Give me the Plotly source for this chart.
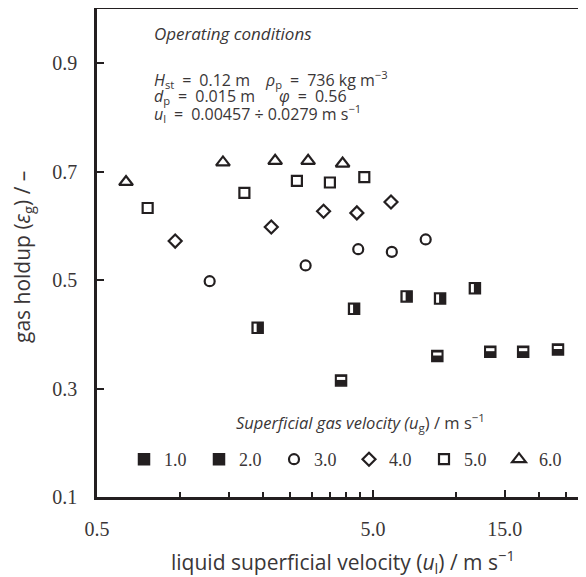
import plotly.graph_objects as go
import math

# ---- data ----
ug_labels = ["1.0", "2.0", "3.0", "4.0", "5.0", "6.0"]
ul_1 = [3.83, 8.55, 13.3, 17.5, 23.4]
eg_1 = [0.315, 0.360, 0.368, 0.368, 0.372]
ul_2 = [1.91, 4.27, 6.62, 8.75, 11.7]
eg_2 = [0.412, 0.447, 0.470, 0.466, 0.485]
ul_3 = [1.28, 2.85, 4.42, 5.85, 7.76]
eg_3 = [0.498, 0.527, 0.557, 0.552, 0.575]
ul_4 = [0.96, 2.14, 3.31, 4.37, 5.81]
eg_4 = [0.572, 0.598, 0.627, 0.624, 0.644]
ul_5 = [0.763, 1.71, 2.65, 3.49, 4.65]
eg_5 = [0.633, 0.661, 0.683, 0.680, 0.690]
ul_6 = [0.637, 1.43, 2.21, 2.91, 3.88]
eg_6 = [0.681, 0.717, 0.720, 0.720, 0.715]

x_major_ticks = [0.5, 5, 15]
x_major_text = ["0.5", "5.0", "15.0"]
x_minor_ticks = [1, 1.5, 2, 2.5, 3, 3.5, 4, 4.5, 10, 20, 25]
y_ticks = [0.1, 0.3, 0.5, 0.7, 0.9]
y_text = ["0.1", "0.3", "0.5", "0.7", "0.9"]

INK = "#231f20"
TXT = "#3a3637"
SANS = "Open Sans"
SERIF = "Liberation Serif"

# page body has an 8px margin; compensate so the plot sits where the reference has it
OFF = 8
W, H = 586 - OFF, 577 - OFF
L, R, T, B = 89, 0, 1, 80
pw = W - L - R
ph = H - T - B

xr = [math.log10(0.5), math.log10(0.5) + pw / 276.0]
yr = [0.1, 1.0]
# hidden overlay axes, offset by a couple of pixels, to place the white bar
# of the half-filled squares off-centre (top half / left half)
dy = 2.0 * (yr[1] - yr[0]) / ph
dx = 2.5 * (xr[1] - xr[0]) / pw
yr2 = [yr[0] - dy, yr[1] - dy]
xr2 = [xr[0] + dx, xr[1] + dx]

fig = go.Figure()

fig.add_trace(go.Scatter(x=ul_1, y=eg_1, mode="markers", name=ug_labels[0],
                         marker=dict(symbol="square", size=11, color=INK,
                                     line=dict(color=INK, width=1.5))))
fig.add_trace(go.Scatter(x=ul_1, y=eg_1, mode="markers", showlegend=False, hoverinfo="skip",
                         xaxis="x", yaxis="y2",
                         marker=dict(symbol="line-ew", size=6, color="white",
                                     line=dict(color="white", width=3))))
fig.add_trace(go.Scatter(x=ul_2, y=eg_2, mode="markers", name=ug_labels[1],
                         marker=dict(symbol="square", size=11, color=INK,
                                     line=dict(color=INK, width=1.5))))
fig.add_trace(go.Scatter(x=ul_2, y=eg_2, mode="markers", showlegend=False, hoverinfo="skip",
                         xaxis="x2", yaxis="y",
                         marker=dict(symbol="line-ns", size=6, color="white",
                                     line=dict(color="white", width=3))))
fig.add_trace(go.Scatter(x=ul_3, y=eg_3, mode="markers", name=ug_labels[2],
                         marker=dict(symbol="circle-open", size=10, color=INK,
                                     line=dict(color=INK, width=2.2))))
fig.add_trace(go.Scatter(x=ul_4, y=eg_4, mode="markers", name=ug_labels[3],
                         marker=dict(symbol="diamond-open", size=10, color=INK,
                                     line=dict(color=INK, width=2.2))))
fig.add_trace(go.Scatter(x=ul_5, y=eg_5, mode="markers", name=ug_labels[4],
                         marker=dict(symbol="square-open", size=10, color=INK,
                                     line=dict(color=INK, width=2.2))))
fig.add_trace(go.Scatter(x=ul_6, y=eg_6, mode="markers", name=ug_labels[5],
                         marker=dict(symbol="triangle-up-open", size=12, color=INK,
                                     line=dict(color=INK, width=2.2))))


def px_x(sx):
    return (sx - OFF - L) / pw


def px_y(sy):
    return (H - B - (sy - OFF)) / ph


fig.update_layout(
    width=W, height=H,
    margin=dict(l=L, r=R, t=T, b=B, autoexpand=False),
    paper_bgcolor="white", plot_bgcolor="white",
    showlegend=True,
    legend=dict(
        orientation="h", x=px_x(124), xanchor="left", y=px_y(441), yanchor="top",
        entrywidth=30, entrywidthmode="pixels",
        font=dict(family=SERIF, size=18, color=TXT),
        bgcolor="rgba(0,0,0,0)", traceorder="normal",
    ),
    xaxis=dict(
        type="log", range=xr, showgrid=False, zeroline=False,
        showline=True, linecolor=INK, linewidth=2.5, mirror=True,
        ticks="inside", ticklen=7, tickwidth=2, tickcolor=INK,
        tickmode="array", tickvals=x_major_ticks, ticktext=x_major_text,
        tickfont=dict(family=SERIF, size=20, color=TXT),
        ticklabelstandoff=12,
        minor=dict(tickmode="array", tickvals=x_minor_ticks, ticks="inside",
                   ticklen=5, tickwidth=2, tickcolor=INK, showgrid=False),
    ),
    yaxis=dict(
        range=yr, showgrid=False, zeroline=False,
        showline=True, linecolor=INK, linewidth=2.5, mirror=False,
        ticks="inside", ticklen=7, tickwidth=2, tickcolor=INK,
        tickmode="array", tickvals=y_ticks, ticktext=y_text,
        tickfont=dict(family=SERIF, size=20, color=TXT),
        ticklabelstandoff=13,
    ),
    xaxis2=dict(type="log", range=xr2, overlaying="x", visible=False),
    yaxis2=dict(range=yr2, overlaying="y", visible=False),
)

SP = "\u2002"   # en space
EM = "\u2003"   # em space
ann_font = dict(family=SANS, size=16, color=TXT)
fig.add_annotation(text="<i>Operating conditions</i>", xref="paper", yref="paper",
                   x=px_x(152), y=px_y(33), xanchor="left", yanchor="middle",
                   showarrow=False, font=dict(family=SANS, size=17, color=TXT))
fig.add_annotation(text=f"<i>H</i><sub>st</sub>{SP}={SP}0.12 m{EM}<i>ρ</i><sub>p</sub>{SP}={SP}736 kg m<sup>−3</sup>",
                   xref="paper", yref="paper", x=px_x(152), y=px_y(80),
                   xanchor="left", yanchor="middle", showarrow=False, font=ann_font)
fig.add_annotation(text=f"<i>d</i><sub>p</sub>{SP}={SP}0.015 m{EM}{SP}<i>φ</i>{SP}={SP}0.56",
                   xref="paper", yref="paper", x=px_x(152), y=px_y(96),
                   xanchor="left", yanchor="middle", showarrow=False, font=ann_font)
fig.add_annotation(text=f"<i>u</i><sub>l</sub>{SP}={SP}0.00457 ÷ 0.0279 m s<sup>−1</sup>",
                   xref="paper", yref="paper", x=px_x(152), y=px_y(113),
                   xanchor="left", yanchor="middle", showarrow=False, font=ann_font)

# legend title
fig.add_annotation(text="<i>Superficial gas velocity (u</i><sub>g</sub>) / m s<sup>−1</sup>",
                   xref="paper", yref="paper", x=px_x(360), y=px_y(422),
                   xanchor="center", yanchor="middle", showarrow=False,
                   font=dict(family=SANS, size=16.5, color=TXT))

# axis titles
fig.add_annotation(text="liquid superficial velocity (<i>u</i><sub>l</sub>) / m s<sup>−1</sup>",
                   xref="paper", yref="paper", x=px_x(343), y=px_y(561),
                   xanchor="center", yanchor="middle", showarrow=False,
                   font=dict(family=SANS, size=21, color=TXT))
fig.add_annotation(text="gas holdup (<i>ε</i><sub>g</sub>) / –",
                   xref="paper", yref="paper", x=px_x(23), y=px_y(257),
                   xanchor="center", yanchor="middle", showarrow=False, textangle=-90,
                   font=dict(family=SANS, size=21, color=TXT))

fig.write_html("out.html")
